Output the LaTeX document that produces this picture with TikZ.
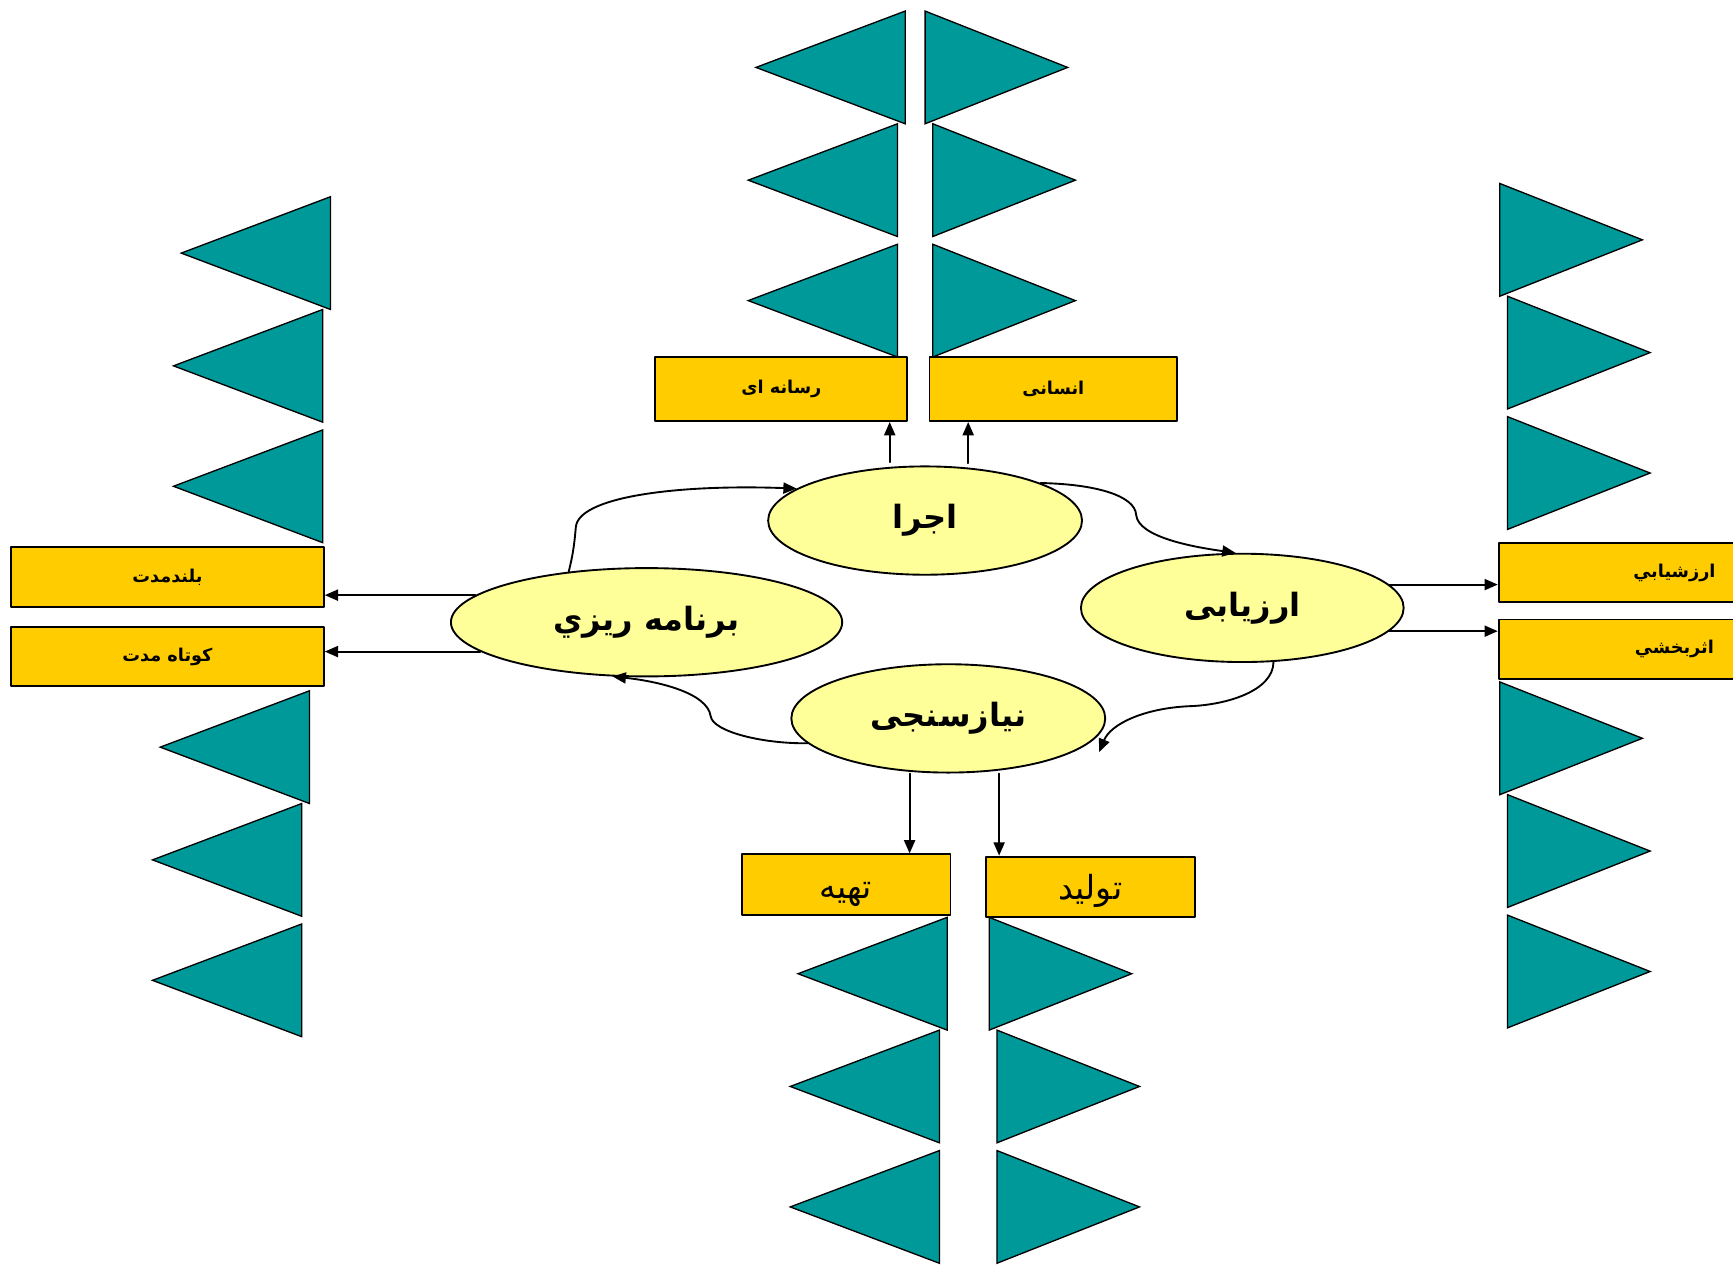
\documentclass[tikz,border=0pt]{standalone}
\usepackage{fontspec}
\usetikzlibrary{shapes.geometric,arrows.meta}
\newfontfamily\arabicfont[Script=Arabic]{DejaVu Sans}
\TeXXeTstate=1
\newcommand{\fatext}[1]{\beginR #1\endR}
\definecolor{tealtri}{HTML}{009999}
\definecolor{boxgold}{HTML}{FFCC00}
\definecolor{ovalyel}{HTML}{FFFF99}

\begin{document}
\begin{tikzpicture}[x=1pt,y=-1pt,line cap=round,line join=round,
  stage/.style={ellipse,draw,line width=1.7pt,fill=ovalyel,inner sep=0pt,
    font=\arabicfont\bfseries\fontsize{29}{32}\selectfont},
  tag/.style={rectangle,draw,line width=1.7pt,fill=boxgold,inner sep=0pt,
    font=\arabicfont\bfseries\fontsize{16}{18}\selectfont},
  plaintag/.style={tag,font=\arabicfont\fontsize{30}{32}\selectfont},
  link/.style={line width=1.7pt,-{Triangle[length=12pt,width=10pt]}},
  tri/.style={draw,line width=1.2pt,line join=miter,fill=tealtri}]
\useasboundingbox (0,0) rectangle (1568,1146);

% columns of triangles: base x, direction, width, top y
\foreach \bx/\dir/\w/\yt in {812/-1/135/10, 844/1/129/10, 292/-1/135/178, 273/-1/135/625,
                             1364/1/129/166, 1364/1/129/617, 850/-1/135/830, 902/1/129/830}
  \foreach \dy/\dx in {0/7, 102/0, 211/0}
    \draw[tri] (\bx-\dx*\dir,\yt+\dy) -- ++(\w*\dir,51) -- ++(-\w*\dir,51) -- cycle;

% the four stages
\node[stage,minimum width=284,minimum height=98] (exec) at (837,471) {\fatext{اجرا}};
\node[stage,minimum width=292,minimum height=98] (evalu) at (1124,550) {\fatext{ارزیابی}};
\node[stage,minimum width=354,minimum height=98] (plan) at (585,563) {\fatext{برنامه ريزي}};
\node[stage,minimum width=284,minimum height=98] (needs) at (858,650) {\fatext{نیازسنجی}};

% boxes
\node[tag,minimum width=228,minimum height=58] (rasane) at (707,352) {\fatext{رسانه ای}};
\node[tag,minimum width=224,minimum height=58] (ensani) at (953,352) {\fatext{انسانی}};
\node[tag,minimum width=283,minimum height=54] (boland) at (151.5,522) {\fatext{بلندمدت}};
\node[tag,minimum width=283,minimum height=54] (kootah) at (151.5,594) {\fatext{کوتاه مدت}};
\node[tag,minimum width=318,minimum height=54] (arzesh) at (1515,518) {\fatext{ارزشيابي}};
\node[tag,minimum width=318,minimum height=54] (asar) at (1515,587.5) {\fatext{اثربخشي}};
\node[plaintag,minimum width=189,minimum height=55] (tahie) at (765.5,800.5) {\raisebox{-12pt}[0pt][0pt]{\fatext{تهیه}}};
\node[plaintag,minimum width=189,minimum height=55] (tolid) at (986.5,802.5) {\raisebox{-11pt}[0pt][0pt]{\fatext{تولید}}};

% cycle
\draw[link] (plan.147) .. controls (519,500) and (520,488) .. (521,477)
  .. controls (523,450) and (610,438) .. (exec.166);
\draw[link] (exec.18) .. controls (990,438) and (1027,448) .. (1028,466)
  .. controls (1030,486) and (1080,495) .. (evalu.97);
\draw[link] (evalu.-60) .. controls (1152,625) and (1110,638) .. (1075,639)
  .. controls (1035,641) and (1005,655) .. ([shift={(9pt,-8pt)}]needs.-10);
\draw[link] (needs.190) .. controls (690,673) and (645,662) .. (643,648)
  .. controls (640,626) and (592,616) .. (plan.238);

% outputs
\draw[link] ([xshift=-32pt,yshift=3pt]exec.north) -- ([xshift=-32pt]exec.north |- rasane.south);
\draw[link] ([xshift=39pt,yshift=2pt]exec.north) -- ([xshift=39pt]exec.north |- ensani.south);
\draw[link] (plan.171) -- (plan.171 -| boland.east);
\draw[link] (plan.190) -- (plan.190 -| kootah.east);
\draw[link] (evalu.9) -- (evalu.9 -| arzesh.west);
\draw[link] (evalu.-9) -- (evalu.-9 -| asar.west);
\draw[link] ([xshift=-35pt]needs.south) -- ([xshift=-35pt]needs.south |- tahie.north);
\draw[link] ([xshift=46pt]needs.south) -- ([xshift=46pt]needs.south |- tolid.north);
\end{tikzpicture}
\end{document}
